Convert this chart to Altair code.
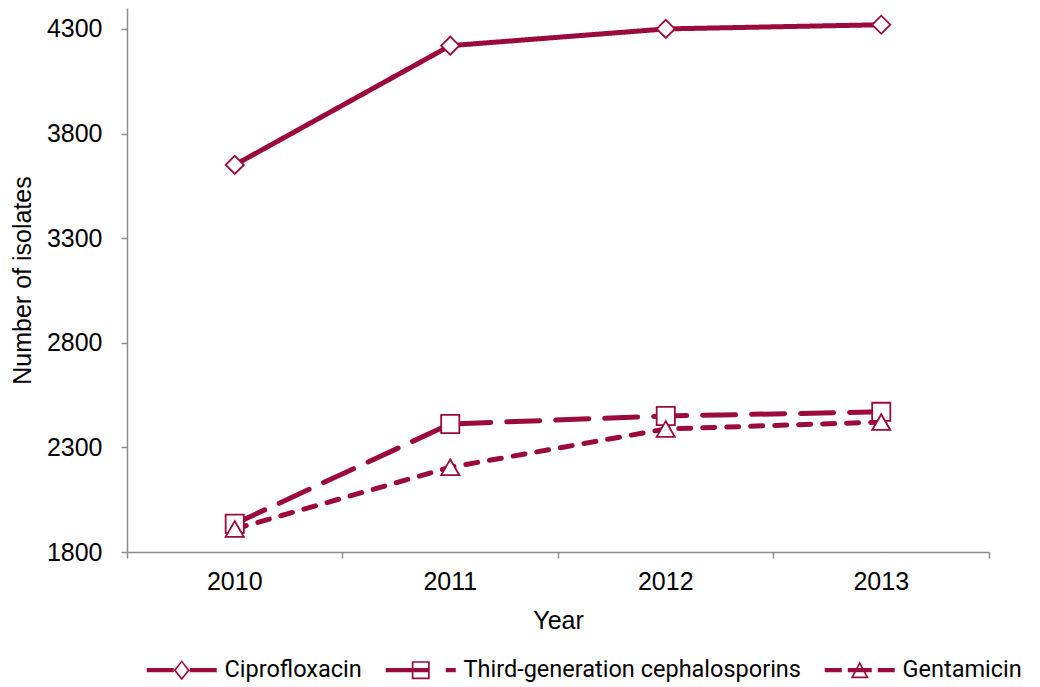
import altair as alt
import pandas as pd

years = ["2010", "2011", "2012", "2013"]
series_names = ["Ciprofloxacin", "Third-generation cephalosporins", "Gentamicin"]
cipro = [3650, 4220, 4300, 4320]
third_gen = [1935, 2412, 2450, 2470]
gentamicin = [1910, 2205, 2388, 2421]
y_ticks = [1800, 2300, 2800, 3300, 3800, 4300]

rows = []
for name, vals in zip(series_names, [cipro, third_gen, gentamicin]):
    for yr, v in zip(years, vals):
        rows.append({"Year": yr, "Series": name, "Value": v})
df = pd.DataFrame(rows)

RED = "#9B0A3C"
GREY = "#8C8C8C"

# legend glyphs: line pattern + hollow marker (pixel units, symbol size 4)
cipro_glyph = ("M0,-2.2H27V2.2H0Z M43,-2.2H70V2.2H43Z "
               "M35,-10L43,0L35,10L27,0Z M35,-7.6L29.2,0L35,7.6L40.8,0Z")
third_glyph = ("M0,-2.2H44V2.2H0Z M60,-2.2H70V2.2H60Z "
               "M26,-9H44V9H26Z M27.7,-7.3V7.3H42.3V-7.3Z")
gent_glyph = ("M0,-2.2H17V2.2H0Z M23,-2.2H47V2.2H23Z M53,-2.2H70V2.2H53Z "
              "M35,-9L44,8H26Z M35,-5.3L28.8,6.3H41.2Z")

x_enc = alt.X(
    "Year:N",
    sort=years,
    scale=alt.Scale(type="band", paddingInner=0, paddingOuter=0),
    axis=alt.Axis(title="Year", labelAngle=0, bandPosition=1, tickExtra=True,
                  labelPadding=11, titlePadding=14),
)
y_enc = alt.Y(
    "Value:Q",
    scale=alt.Scale(domain=[1800, 4400], nice=False, zero=False),
    axis=alt.Axis(title="Number of isolates", values=y_ticks, format="d",
                  labelPadding=19, titlePadding=11),
)

lines = alt.Chart(df).mark_line(color=RED, strokeWidth=5, strokeCap="round").encode(
    x=x_enc,
    y=y_enc,
    strokeDash=alt.StrokeDash(
        "Series:N",
        scale=alt.Scale(domain=series_names, range=[[1, 0], [33, 16], [12, 12]]),
        legend=None,
    ),
)

points = alt.Chart(df).mark_point(
    filled=False, fill="white", fillOpacity=1, color=RED, strokeWidth=1.8,
    size=330, opacity=1
).encode(
    x=x_enc,
    y=y_enc,
    shape=alt.Shape(
        "Series:N",
        scale=alt.Scale(domain=series_names, range=["diamond", "square", "triangle-up"]),
        legend=None,
    ),
)

legend_layer = alt.Chart(df).transform_filter("datum.Value < 0").mark_point(
    filled=True, color=RED, size=4, opacity=1
).encode(
    x=x_enc,
    y=y_enc,
    shape=alt.Shape(
        "Series:N",
        scale=alt.Scale(domain=series_names, range=[cipro_glyph, third_glyph, gent_glyph]),
        legend=alt.Legend(
            title=None, orient="none", direction="horizontal",
            legendX=8, legendY=650, padding=0,
            symbolSize=4, symbolStrokeWidth=0, symbolFillColor=RED, symbolOpacity=1,
            labelFont="Roboto", labelFontSize=23.5, labelColor="black",
            labelOffset=66, labelLimit=600, columnPadding=12,
        ),
    ),
)

chart = alt.layer(lines, points, legend_layer).resolve_scale(
    shape="independent"
).properties(
    width=862,
    height=544,
    autosize=alt.AutoSizeParams(type="none"),
    padding={"left": 119, "top": 0, "right": 43, "bottom": 135},
).configure_axis(
    domainColor=GREY, domainWidth=1.5, tickColor=GREY, tickWidth=1.5, tickSize=6,
    labelFont="Liberation Sans", labelFontSize=25, labelColor="black",
    titleFont="Liberation Sans", titleFontSize=25, titleFontWeight="normal",
    titleColor="black", grid=False,
).configure_view(stroke="transparent")

chart.save("out.html", embed_options={"renderer": "svg", "actions": False})
